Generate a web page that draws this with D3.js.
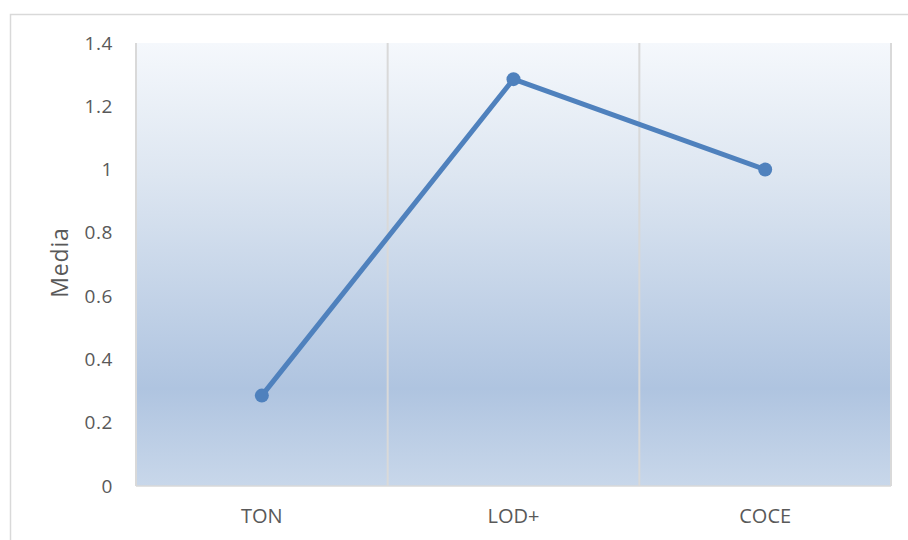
<!DOCTYPE html>
<html>
<head>
<meta charset="utf-8">
<script src="https://cdn.jsdelivr.net/npm/d3@7"></script>
<style>
  html, body { margin: 0; padding: 0; background: #fff; }
  svg { display: block; }
  text { font-family: "Open Sans", "Liberation Sans", sans-serif; fill: #595959; }
</style>
</head>
<body>
<svg id="chart" width="908" height="540"></svg>
<script>
// Mean value per condition
const categories = ["TON", "LOD+", "COCE"];
const values = [0.2857, 1.2857, 1.0];
const yTicks = [0, 0.2, 0.4, 0.6, 0.8, 1, 1.2, 1.4];
const yTitle = "Media";

const svg = d3.select("#chart");
const margin = { left: 136, top: 43, right: 908 - 891, bottom: 540 - 486 };
const W = 908, H = 540;
const innerW = W - margin.left - margin.right;
const innerH = H - margin.top - margin.bottom;
const fontStack = "\"Open Sans\", \"Liberation Sans\", sans-serif";

// Chart frame
svg.append("rect")
  .attr("x", 10.5).attr("y", 14.5)
  .attr("width", 910).attr("height", 540)
  .attr("fill", "#fff").attr("stroke", "#d9d9d9").attr("stroke-width", 1.5);

// Plot background gradient
const defs = svg.append("defs");
const grad = defs.append("linearGradient")
  .attr("id", "plotBg").attr("x1", 0).attr("y1", 0).attr("x2", 0).attr("y2", 1);
grad.append("stop").attr("offset", "0%").attr("stop-color", "#f5f8fc");
grad.append("stop").attr("offset", "30%").attr("stop-color", "#dde6f1");
grad.append("stop").attr("offset", "78%").attr("stop-color", "#afc4e0");
grad.append("stop").attr("offset", "100%").attr("stop-color", "#c8d7ea");

const g = svg.append("g").attr("transform", `translate(${margin.left},${margin.top})`);

const x = d3.scaleBand().domain(categories).range([0, innerW]).padding(0);
const y = d3.scaleLinear().domain([0, 1.4]).range([innerH, 0]);

g.append("rect")
  .attr("width", innerW).attr("height", innerH)
  .attr("fill", "url(#plotBg)");

// Vertical gridlines at category boundaries
const bounds = categories.map(c => x(c)).concat([innerW]);
g.selectAll("line.vgrid").data(bounds).enter().append("line")
  .attr("class", "vgrid")
  .attr("x1", d => d).attr("x2", d => d)
  .attr("y1", 0).attr("y2", innerH)
  .attr("stroke", "#d9d9d9").attr("stroke-width", 2);

// Baseline
g.append("line")
  .attr("x1", 0).attr("x2", innerW)
  .attr("y1", innerH).attr("y2", innerH)
  .attr("stroke", "#d9d9d9").attr("stroke-width", 1.5);

// Y axis labels
const yAxis = d3.axisLeft(y).tickValues(yTicks).tickSize(0).tickPadding(23)
  .tickFormat(d => d3.format("~g")(d));
const ya = g.append("g").call(yAxis);
ya.select(".domain").remove();
ya.selectAll("text").style("font-size", "19px").style("letter-spacing", "0.6px")
  .attr("fill", "#595959").style("font-family", fontStack);

// X axis labels
const xAxis = d3.axisBottom(x).tickSize(0).tickPadding(23);
const xa = g.append("g").attr("transform", `translate(0,${innerH})`).call(xAxis);
xa.select(".domain").remove();
xa.selectAll("text").style("font-size", "20px")
  .attr("fill", "#595959").style("font-family", fontStack);

// Y axis title
svg.append("text")
  .attr("transform", `translate(68,${margin.top + innerH / 2 - 2}) rotate(-90)`)
  .attr("text-anchor", "middle")
  .style("font-size", "23px")
  .style("letter-spacing", "0.8px")
  .text(yTitle);

// Series line and markers
const cx = d => x(d) + x.bandwidth() / 2;
const data = categories.map((c, i) => ({ c, v: values[i] }));
g.append("path")
  .datum(data)
  .attr("fill", "none")
  .attr("stroke", "#4f81bd")
  .attr("stroke-width", 5)
  .attr("stroke-linejoin", "round")
  .attr("d", d3.line().x(d => cx(d.c)).y(d => y(d.v)));

g.selectAll("circle.pt").data(data).enter().append("circle")
  .attr("class", "pt")
  .attr("cx", d => cx(d.c)).attr("cy", d => y(d.v))
  .attr("r", 7)
  .attr("fill", "#4f81bd");
</script>
</body>
</html>
